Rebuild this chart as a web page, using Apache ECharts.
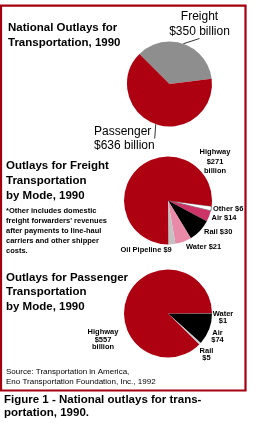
<!DOCTYPE html>
<html>
<head>
<meta charset="utf-8">
<script src="https://cdn.jsdelivr.net/npm/echarts@6/dist/echarts.min.js"></script>
<style>
html, body { margin: 0; padding: 0; background: #fff; }
#main { width: 257px; height: 423px; }
</style>
</head>
<body>
<div id="main"></div>
<script>
// values in billions of dollars, 1990
var nationalNames = ['Freight', 'Passenger'];
var nationalValues = [350, 636];

var freightModes = ['Other', 'Air', 'Rail', 'Water', 'Oil Pipeline', 'Highway'];
var freightValues = [6, 14, 30, 21, 9, 271];

var passengerModes = ['Water', 'Air', 'Rail', 'Highway'];
var passengerValues = [1, 74, 5, 557];

var RED = '#ad0011',
	sans = "'Liberation Sans', Arial, sans-serif";

var nationalColors = ['#8e8e8e', RED];
var freightColors = ['#ffffff', '#cc3366', '#000000', '#e98aa8', '#c2c2c2', RED];
var passengerColors = ['#c4c4c4', '#000000', '#c6d0d0', RED];

// label anchors (text placement only)
var nationalLabelPos = [
	{ x: 199.5, y: 24, align: 'center' },
	{ x: 94, y: 138.5, align: 'left' }
];
var freightLabelPos = [
	{ x: 213, y: 208.5, align: 'left' },
	{ x: 211.5, y: 218, align: 'left' },
	{ x: 204, y: 231.5, align: 'left' },
	{ x: 186, y: 247, align: 'left' },
	{ x: 120.5, y: 250, align: 'left' },
	{ x: 215, y: 161.5, align: 'center' }
];
var passengerLabelPos = [
	{ x: 223, y: 317.5, align: 'center' },
	{ x: 217.5, y: 336.5, align: 'center' },
	{ x: 206.5, y: 354.5, align: 'center' },
	{ x: 103, y: 339.5, align: 'center' }
];

function toData(names, values, colors) {
	var arr = [];
	for (var i = 0; i < names.length; i++) {
		arr.push({ name: names[i], value: values[i], itemStyle: { color: colors[i] } });
	}
	return arr;
}

function layoutFrom(list) {
	return function (p) {
		var pos = list[p.dataIndex];
		return { x: pos.x, y: pos.y, align: pos.align, verticalAlign: 'middle', hideOverlap: false, moveOverlap: null };
	};
}

var freightData = toData(freightModes, freightValues, freightColors);
freightData[0].itemStyle.borderColor = '#333';
freightData[0].itemStyle.borderWidth = 0.6;

var titleFont = 'bold 11.5px ' + sans;
var textBlocks = [
	{ x: 8, y: 35, lh: 15, font: titleFont, text: 'National Outlays for\nTransportation, 1990' },
	{ x: 6, y: 181, lh: 14.75, font: titleFont, text: 'Outlays for Freight\nTransportation\nby Mode, 1990' },
	{ x: 6, y: 230.5, lh: 10, font: 'bold 7.5px ' + sans,
		text: '*Other includes domestic\nfreight forwarders\' revenues\nafter payments to line-haul\ncarriers and other shipper\ncosts.' },
	{ x: 6, y: 292.3, lh: 14.75, font: titleFont, text: 'Outlays for Passenger\nTransportation\nby Mode, 1990' },
	{ x: 6, y: 376.5, lh: 10, font: '8px ' + sans, text: 'Source: Transportation in America,\nEno Transportation Foundation, Inc., 1992' },
	{ x: 4, y: 406.3, lh: 13.3, font: titleFont, text: 'Figure 1 - National outlays for trans-\nportation, 1990.' }
];

var graphics = [{
	type: 'rect',
	shape: { x: 1, y: 5.7, width: 244.5, height: 384.8 },
	style: { fill: 'none', stroke: '#a50010', lineWidth: 2.2 },
	silent: true
}];
for (var i = 0; i < textBlocks.length; i++) {
	var b = textBlocks[i];
	graphics.push({
		type: 'text', x: b.x, y: b.y, silent: true,
		style: { text: b.text, font: b.font, lineHeight: b.lh, fill: '#000', textAlign: 'left', textVerticalAlign: 'middle' }
	});
}

function smallLabel(lh, fmt) {
	return { show: true, color: '#000', fontFamily: sans, fontSize: 7.5, fontWeight: 'bold', lineHeight: lh,
		overflow: 'none', formatter: fmt };
}

var option = {
	backgroundColor: '#ffffff',
	animation: false,
	graphic: graphics,
	series: [
		{
			name: 'National',
			type: 'pie',
			center: [169.5, 84],
			radius: 42.5,
			startAngle: 135,
			clockwise: true,
			silent: true,
			avoidLabelOverlap: false,
			itemStyle: { borderWidth: 0 },
			data: toData(nationalNames, nationalValues, nationalColors),
			label: {
				show: true, color: '#000', fontFamily: sans, fontSize: 12, lineHeight: 14.5, overflow: 'none',
				formatter: function (p) { return p.name + '\n$' + p.value + ' billion'; }
			},
			labelLine: { show: true, length: 4, length2: 0, lineStyle: { color: '#000', width: 0.8 } },
			labelLayout: layoutFrom(nationalLabelPos)
		},
		{
			name: 'Freight',
			type: 'pie',
			center: [168, 200.5],
			radius: 44,
			startAngle: -7.5,
			clockwise: true,
			silent: true,
			avoidLabelOverlap: false,
			itemStyle: { borderWidth: 0 },
			data: freightData,
			label: smallLabel(9.3, function (p) {
				if (p.name == 'Highway') return p.name + '\n$' + p.value + '\nbillion';
				return p.name + ' $' + p.value;
			}),
			labelLine: { show: false },
			labelLayout: layoutFrom(freightLabelPos)
		},
		{
			name: 'Passenger',
			type: 'pie',
			center: [168, 313.5],
			radius: 44,
			startAngle: 0.5,
			clockwise: true,
			silent: true,
			avoidLabelOverlap: false,
			itemStyle: { borderWidth: 0 },
			data: toData(passengerModes, passengerValues, passengerColors),
			label: smallLabel(7.8, function (p) {
				if (p.name == 'Highway') return p.name + '\n$' + p.value + '\nbillion';
				return p.name + '\n$' + p.value;
			}),
			labelLine: { show: false },
			labelLayout: layoutFrom(passengerLabelPos)
		}
	]
};

var myChart = echarts.init(document.getElementById('main'));
myChart.setOption(option);
</script>
</body>
</html>
